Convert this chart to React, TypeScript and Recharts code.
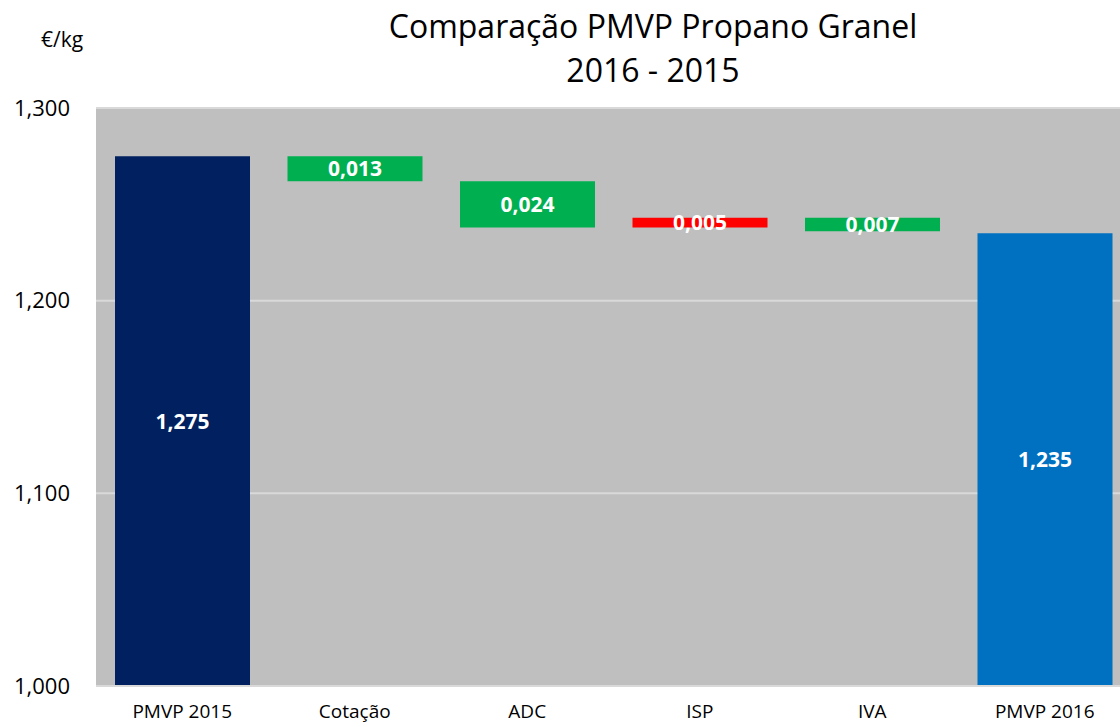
import React from 'react';
import { BarChart, Bar, XAxis, YAxis, CartesianGrid, Cell, LabelList, ReferenceLine } from 'recharts';

document.body.style.margin = '0';

const categories = ['PMVP 2015', 'Cotação', 'ADC', 'ISP', 'IVA', 'PMVP 2016'];
const startTotal = 1.275;
const deltas = [-0.013, -0.024, 0.005, -0.007];
const endTotal = 1.235;
const yTicks = [1.0, 1.1, 1.2, 1.3];

const fmt = (v: number) => Math.abs(v).toFixed(3).replace('.', ',');

// build waterfall rows: totals from the base, steps as floating ranges
const buildRows = () => {
  const rows: any[] = [];
  rows.push({ name: categories[0], range: [1.0, startTotal], label: fmt(startTotal), kind: 'start' });
  let running = startTotal;
  deltas.forEach((d, i) => {
    const next = running + d;
    rows.push({
      name: categories[i + 1],
      range: [Math.min(running, next), Math.max(running, next)],
      label: fmt(d),
      kind: d < 0 ? 'down' : 'up',
    });
    running = next;
  });
  rows.push({ name: categories[5], range: [1.0, endTotal], label: fmt(endTotal), kind: 'end' });
  return rows;
};

const colors: Record<string, string> = {
  start: '#002060',
  end: '#0070C0',
  down: '#00B050',
  up: '#FF0000',
};

const font = '"Open Sans", "Noto Sans", sans-serif';

export default function App() {
  const data = buildRows();
  return (
    <div style={{ position: 'relative', width: 1120, height: 727, overflow: 'hidden', fontFamily: font, background: '#fff' }}>
      <div style={{ position: 'absolute', left: 0, top: 4, width: 1306, textAlign: 'center', fontSize: 32, lineHeight: '44px', color: '#000', zIndex: 1 }}>
        Comparação PMVP Propano Granel
        <br />
        2016 - 2015
      </div>
      <div style={{ position: 'absolute', left: 41, top: 25, fontSize: 21, color: '#000', zIndex: 1 }}>€/kg</div>
      {/* plot runs past the right edge in the original, so draw wider and crop */}
      <BarChart
        width={1131}
        height={727}
        data={data}
        margin={{ top: 108, right: 0, left: 0, bottom: 0 }}
        barCategoryGap={19}
      >
        <CartesianGrid vertical={false} fill="#BFBFBF" stroke="#D9D9D9" strokeWidth={2} />
        <XAxis
          dataKey="name"
          height={41}
          axisLine={false}
          tickLine={false}
          tickMargin={13}
          interval={0}
          tick={{ fill: '#000', fontSize: 19, fontFamily: font }}
        />
        <YAxis
          width={96}
          domain={[1.0, 1.3]}
          ticks={yTicks}
          allowDataOverflow
          axisLine={false}
          tickLine={false}
          tickMargin={20}
          tickFormatter={fmt}
          tick={{ fill: '#000', fontSize: 22, fontFamily: font }}
        />
        <Bar dataKey="range" isAnimationActive={false}>
          {data.map((row, i) => (
            <Cell key={i} fill={colors[row.kind]} />
          ))}
          <LabelList
            dataKey="label"
            position="center"
            fill="#fff"
            style={{ fontSize: 21, fontWeight: 700, fontFamily: font }}
          />
        </Bar>
        <ReferenceLine y={1.0} stroke="#D9D9D9" strokeWidth={2} />
      </BarChart>
    </div>
  );
}
